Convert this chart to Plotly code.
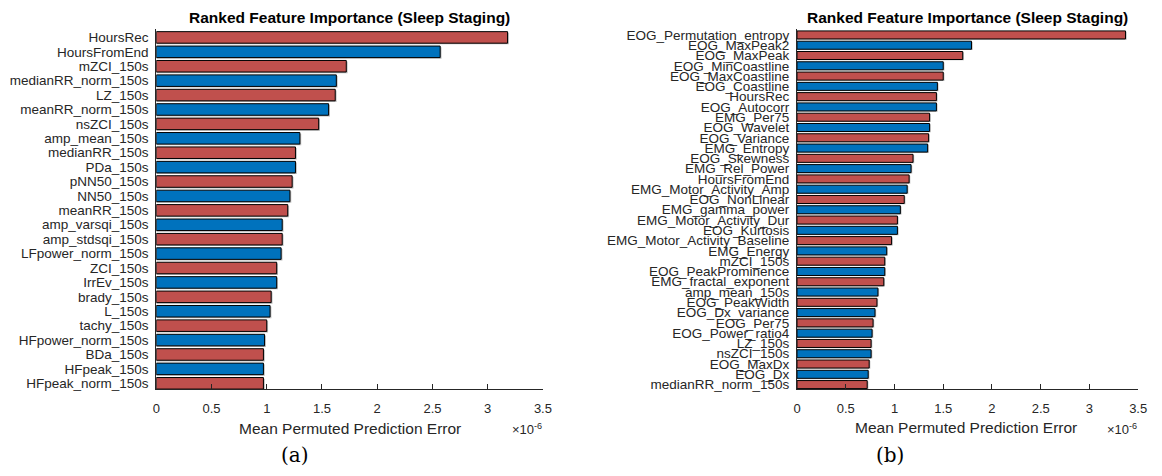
import plotly.graph_objects as go

# ---- data ----
left_features = ["HoursRec", "HoursFromEnd", "mZCI_150s", "medianRR_norm_150s", "LZ_150s",
                 "meanRR_norm_150s", "nsZCI_150s", "amp_mean_150s", "medianRR_150s", "PDa_150s",
                 "pNN50_150s", "NN50_150s", "meanRR_150s", "amp_varsqi_150s", "amp_stdsqi_150s",
                 "LFpower_norm_150s", "ZCI_150s", "IrrEv_150s", "brady_150s", "L_150s",
                 "tachy_150s", "HFpower_norm_150s", "BDa_150s", "HFpeak_150s", "HFpeak_norm_150s"]
left_values = [3.18, 2.57, 1.72, 1.63, 1.62, 1.56, 1.47, 1.30, 1.26, 1.26,
               1.23, 1.21, 1.19, 1.14, 1.14, 1.13, 1.09, 1.09, 1.04, 1.03,
               1.00, 0.98, 0.97, 0.97, 0.97]

right_features = ["EOG_Permutation_entropy", "EOG_MaxPeak2", "EOG_MaxPeak", "EOG_MinCoastline",
                  "EOG_MaxCoastline", "EOG_Coastline", "HoursRec", "EOG_Autocorr", "EMG_Per75",
                  "EOG_Wavelet", "EOG_Variance", "EMG_Entropy", "EOG_Skewness", "EMG_Rel_Power",
                  "HoursFromEnd", "EMG_Motor_Activity_Amp", "EOG_NonLinear", "EMG_gamma_power",
                  "EMG_Motor_Activity_Dur", "EOG_Kurtosis", "EMG_Motor_Activity_Baseline",
                  "EMG_Energy", "mZCI_150s", "EOG_PeakProminence", "EMG_fractal_exponent",
                  "amp_mean_150s", "EOG_PeakWidth", "EOG_Dx_variance", "EOG_Per75",
                  "EOG_Power_ratio4", "LZ_150s", "nsZCI_150s", "EOG_MaxDx", "EOG_Dx",
                  "medianRR_norm_150s"]
right_values = [3.37, 1.79, 1.70, 1.50, 1.50, 1.44, 1.43, 1.43, 1.36, 1.36,
                1.35, 1.34, 1.19, 1.17, 1.15, 1.13, 1.10, 1.06, 1.03, 1.03,
                0.97, 0.92, 0.90, 0.90, 0.89, 0.83, 0.82, 0.80, 0.78, 0.77,
                0.76, 0.76, 0.74, 0.73, 0.72]

x_ticks = [0, 0.5, 1, 1.5, 2, 2.5, 3, 3.5]
x_ticklabels = ["0", "0.5", "1", "1.5", "2", "2.5", "3", "3.5"]

RED = "#C0504D"
BLUE = "#0072BD"
AX = "#262626"
W, H = 1162, 476
FONT = "Liberation Sans, Arial, sans-serif"


def px_x(p):
    return p / W


def px_y(p):
    return 1 - p / H


fig = go.Figure()

panels = [
    (left_features, left_values, "x", "y", 0.8),
    (right_features, right_values, "x2", "y2", 0.78),
]
for feats, vals, xa, ya, bw in panels:
    cols = [RED if i % 2 == 0 else BLUE for i in range(len(feats))]
    pos = list(range(len(feats)))
    # soft shadow behind each bar
    fig.add_trace(go.Bar(x=[v + 0.012 for v in vals], y=[p + 0.08 for p in pos], orientation="h",
                         width=bw, marker=dict(color="rgba(128,128,128,0.55)", line=dict(width=0)),
                         xaxis=xa, yaxis=ya, showlegend=False, hoverinfo="skip"))
    fig.add_trace(go.Bar(x=vals, y=pos, orientation="h", width=bw,
                         marker=dict(color=cols, line=dict(color="#000000", width=1)),
                         xaxis=xa, yaxis=ya, showlegend=False, text=feats,
                         hovertemplate="%{text}: %{x}e-6<extra></extra>", textposition="none"))

xaxis_common = dict(range=[0, 3.5], tickvals=x_ticks, ticktext=x_ticklabels, showline=True,
                    linecolor=AX, linewidth=1, ticks="inside", ticklen=5, tickcolor=AX,
                    showgrid=False, zeroline=False, tickfont=dict(family=FONT, size=13, color=AX),
                    ticklabelstandoff=7, fixedrange=True)

fig.update_layout(
    width=W, height=H,
    margin=dict(l=0, r=0, t=0, b=0),
    paper_bgcolor="white", plot_bgcolor="white",
    barmode="overlay",
    xaxis=dict(domain=[px_x(154), px_x(545)], anchor="y", **xaxis_common),
    yaxis=dict(domain=[px_y(391.5), px_y(28)], anchor="x", range=[24.41, -0.6],
               tickvals=list(range(len(left_features))), ticktext=left_features,
               showline=True, linecolor=AX, linewidth=1, ticks="", showgrid=False,
               zeroline=False, tickfont=dict(family=FONT, size=13.5, color=AX),
               ticklabelstandoff=4),
    xaxis2=dict(domain=[px_x(802), px_x(1147)], anchor="y2", **xaxis_common),
    yaxis2=dict(domain=[px_y(391.5), px_y(28)], anchor="x2", range=[34.45, -0.6],
                tickvals=list(range(len(right_features))), ticktext=right_features,
                showline=True, linecolor=AX, linewidth=1, ticks="", showgrid=False,
                zeroline=False, tickfont=dict(family=FONT, size=13.5, color=AX),
                ticklabelstandoff=4),
)

title = "Ranked Feature Importance (Sleep Staging)"
ann = []
for cx in [349.5, 974.5]:
    ann.append(dict(text="<b>%s</b>" % title, x=px_x(cx), y=px_y(17), xref="paper", yref="paper",
                    showarrow=False, xanchor="center", yanchor="middle",
                    font=dict(family=FONT, size=15.5, color="#000000")))
for cx, cy in [(350, 431), (973, 430)]:
    ann.append(dict(text="Mean Permuted Prediction Error", x=px_x(cx), y=px_y(cy), xref="paper",
                    yref="paper", showarrow=False, xanchor="center", yanchor="middle",
                    font=dict(family=FONT, size=15.5, color=AX)))
for rx in [546, 1148]:
    ann.append(dict(text="×10<sup>-6</sup>", x=px_x(rx), y=px_y(432), xref="paper", yref="paper",
                    showarrow=False, xanchor="right", yanchor="middle",
                    font=dict(family=FONT, size=13, color=AX)))
for lab, cx in [("(a)", 294), ("(b)", 896)]:
    ann.append(dict(text=lab, x=px_x(cx), y=px_y(458), xref="paper", yref="paper",
                    showarrow=False, xanchor="center", yanchor="middle",
                    font=dict(family="DejaVu Serif, Liberation Serif, serif", size=20,
                              color="#000000")))
fig.update_layout(annotations=ann)

fig.write_html("out.html")
